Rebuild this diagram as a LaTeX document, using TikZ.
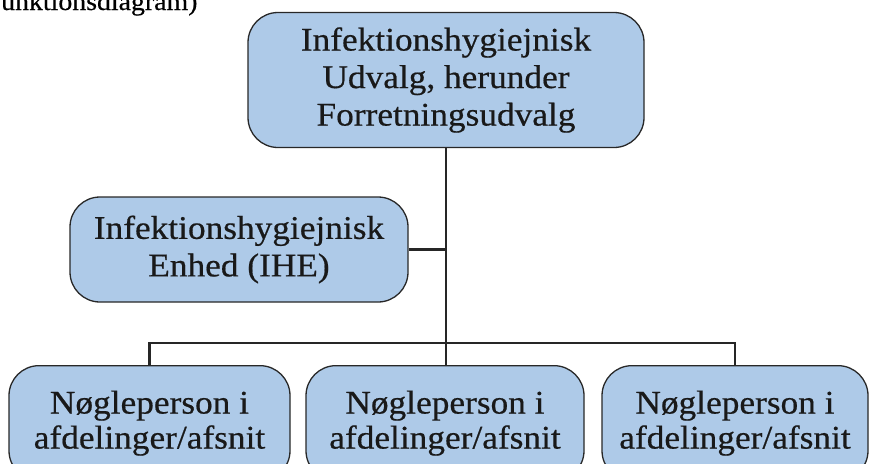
\documentclass[tikz,border=0pt]{standalone}
\usepackage{fontspec}
\setmainfont[FakeStretch=1.07,FakeBold=0.5]{Liberation Serif}
\definecolor{boxfill}{RGB}{174,202,232}
\definecolor{boxline}{RGB}{40,40,40}
\begin{document}
\begin{tikzpicture}[x=1pt,y=-1pt,
  box/.style={draw=boxline, fill=boxfill, line width=1.3pt, rounded corners=30pt,
    align=center, font=\fontsize{33}{37.5}\selectfont, text=black!90, inner sep=0pt},
  conn/.style={draw=black!85, line width=2.5pt}]
\useasboundingbox (0,0) rectangle (869,463);
\node[anchor=base west, font=\fontsize{26}{30}\selectfont, inner sep=0pt] (cap) at (1,10) {unktionsdiagram)};
\node[box, minimum width=396pt, minimum height=135pt] (top) at (446,80)
  {Infektionshygiejnisk\\Udvalg, herunder\\Forretningsudvalg};
\node[box, minimum width=338pt, minimum height=105pt] (ihe) at (239,249.5)
  {Infektionshygiejnisk\\Enhed (IHE)};
\node[box, anchor=north, minimum width=281pt, inner ysep=25pt, font=\fontsize{33}{35}\selectfont] (b1) at (149.5,365)
  {Nøgleperson i\\afdelinger/afsnit};
\node[box, anchor=north, minimum width=278pt, inner ysep=25pt, font=\fontsize{33}{35}\selectfont] (b2) at (445,365)
  {Nøgleperson i\\afdelinger/afsnit};
\node[box, anchor=north, minimum width=266pt, inner ysep=25pt, font=\fontsize{33}{35}\selectfont] (b3) at (735,365)
  {Nøgleperson i\\afdelinger/afsnit};
\coordinate (j) at (446,343);
\draw[conn] (top.south) -- (j);
\draw[conn] (ihe.east) -- (ihe.east -| j);
\draw[conn] (b1.north) |- (j) -| (b3.north);
\draw[conn] (j) -- (j |- b2.north);
\end{tikzpicture}
\end{document}
